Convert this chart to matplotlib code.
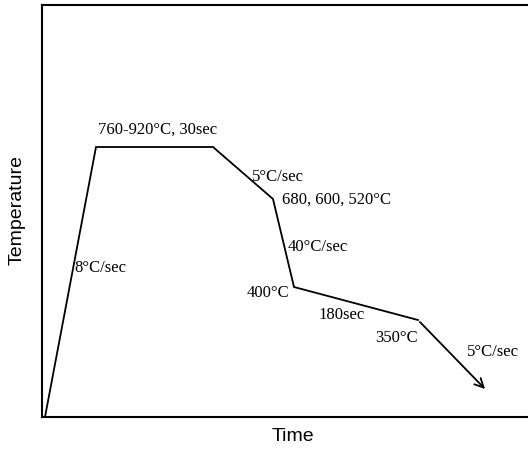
import matplotlib
matplotlib.use("Agg")
import matplotlib.pyplot as plt

# Schematic heat-treatment cycle (arbitrary units)
time = [3, 54, 171, 231, 252, 376]
temp = [0, 270, 270, 218, 130, 97]
arrow_end = (445, 26)

labels = ["760-920°C, 30sec", "5°C/sec", "680, 600, 520°C", "40°C/sec", "8°C/sec",
          "400°C", "180sec", "350°C", "5°C/sec"]
label_x = [56, 210, 240, 246, 32, 205, 276, 333, 425]
label_y = [287, 240, 217, 170, 149, 124, 102, 79, 65]

fig = plt.figure(figsize=(5.28, 4.49), dpi=100)
ax = fig.add_axes([42/528, 32/449, 486/528, 412/449])
ax.set_xlim(0, 486)
ax.set_ylim(0, 412)

ax.plot(time, temp, color="black", lw=1.3, solid_joinstyle="miter")
ax.annotate("", xy=arrow_end, xytext=(time[-1], temp[-1]),
            arrowprops=dict(arrowstyle="->", color="black", lw=1.3, mutation_scale=16))

for s, x, y in zip(labels, label_x, label_y):
    ax.text(x, y, s, ha="left", va="center", fontsize=12,
            family=["Liberation Serif", "DejaVu Serif"], color="black")

ax.set_xticks([])
ax.set_yticks([])
for side in ["left", "bottom", "top"]:
    ax.spines[side].set_linewidth(1.5)
ax.spines["right"].set_visible(False)

ax.set_xlabel("Time", fontsize=14, family="Liberation Sans")
ax.set_ylabel("Temperature", fontsize=14, family="Liberation Sans")
ax.xaxis.set_label_coords(0.516, -0.0485)
ax.yaxis.set_label_coords(-0.051, 0.502)
ax.xaxis.label.set_va("center")
ax.yaxis.label.set_va("center")

fig.savefig("out.png", dpi=100)
